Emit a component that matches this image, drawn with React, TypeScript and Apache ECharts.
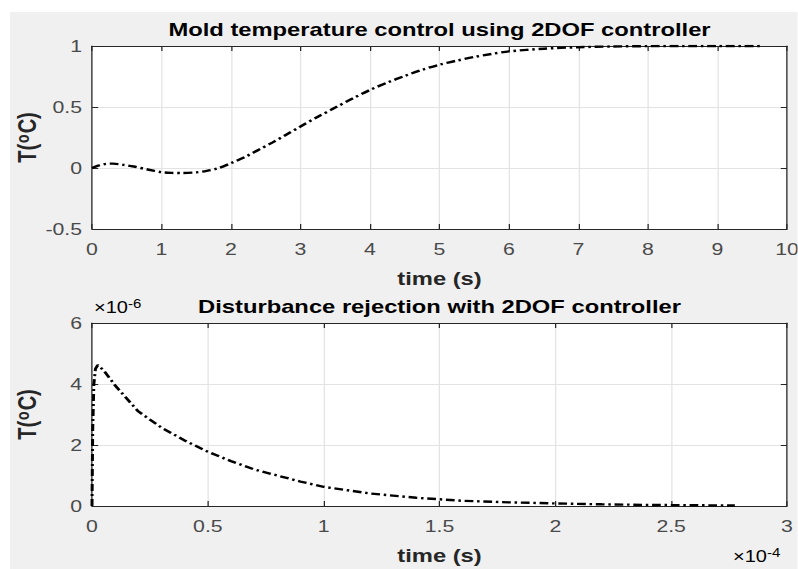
import React, { useEffect, useRef } from "react";
import * as echarts from "echarts";

// Top subplot: step response (time in s, temperature in °C)
const topTime = [0, 0.1, 0.2, 0.3, 0.45, 0.6, 0.8, 1.0, 1.15, 1.3, 1.5, 1.65, 1.8, 2.0, 2.2, 2.4, 2.6, 2.8, 3.0, 3.25, 3.5, 3.75, 4.0, 4.25, 4.5, 4.75, 5.0, 5.25, 5.5, 5.75, 6.0, 6.5, 7.0, 7.5, 8.0, 8.5, 9.0, 9.64];
const topTemp = [0, 0.022, 0.034, 0.036, 0.026, 0.012, -0.012, -0.034, -0.04, -0.041, -0.036, -0.024, -0.005, 0.04, 0.09, 0.15, 0.21, 0.275, 0.34, 0.42, 0.495, 0.57, 0.64, 0.7, 0.755, 0.805, 0.847, 0.88, 0.91, 0.935, 0.956, 0.978, 0.99, 0.996, 0.999, 1.0, 1.0, 1.0];

// Bottom subplot: disturbance rejection (time ×1e-4 s, temperature ×1e-6 °C)
const botTime = [0, 0.003, 0.008, 0.015, 0.025, 0.05, 0.1, 0.2, 0.3, 0.4, 0.5, 0.6, 0.7, 0.8, 0.9, 1.0, 1.2, 1.4, 1.6, 1.8, 2.0, 2.2, 2.4, 2.6, 2.775];
const botTemp = [0, 2.5, 4.0, 4.5, 4.62, 4.45, 3.95, 3.1, 2.57, 2.15, 1.78, 1.47, 1.2, 1.0, 0.8, 0.63, 0.41, 0.27, 0.17, 0.12, 0.085, 0.055, 0.036, 0.024, 0.017];

const topTitle = "Mold temperature control using 2DOF controller";
const botTitle = "Disturbance rejection with 2DOF controller";
const xName = "time (s)";

const SX = 1.25; // horizontal stretch of the reference image
const W = 798 / SX;
const H = 569;
const FONT = "Liberation Sans, Arial, Helvetica, sans-serif";
const AXIS_COLOR = "#262626";
const GRID_COLOR = "#e3e3e3";
const TICK_COLOR = "#4a4a4a";

const gLeft = 92 / SX;
const gWidth = 695 / SX;
const gCenter = gLeft + gWidth / 2;

const yNameRich = {
  n: { fontSize: 20, fontWeight: "bold", fontFamily: FONT, color: AXIS_COLOR },
  s: { fontSize: 14, fontWeight: "bold", fontFamily: FONT, color: AXIS_COLOR, verticalAlign: "top", padding: [0, 1, 7, 1] },
};

function mainX(gridIndex: number, min: number, max: number, interval: number, withName: boolean) {
  return {
    type: "value",
    gridIndex,
    min,
    max,
    interval,
    position: "bottom",
    name: withName ? xName : "",
    nameLocation: "middle",
    nameGap: 40,
    nameMoveOverlap: false,
    nameTextStyle: { fontSize: 19, fontWeight: "bold", fontFamily: FONT, color: AXIS_COLOR },
    axisLine: { show: true, onZero: false, lineStyle: { color: AXIS_COLOR, width: 1 } },
    axisTick: { show: true, inside: true, length: 5, lineStyle: { color: AXIS_COLOR } },
    axisLabel: { show: true, margin: 12, fontSize: 17, fontFamily: FONT, color: TICK_COLOR },
    splitLine: { show: true, lineStyle: { color: GRID_COLOR, width: 1 } },
  };
}
function topX(gridIndex: number, min: number, max: number, interval: number) {
  return {
    type: "value",
    gridIndex,
    min,
    max,
    interval,
    position: "top",
    axisLine: { show: true, onZero: false, lineStyle: { color: AXIS_COLOR, width: 1 } },
    axisTick: { show: true, inside: true, length: 5, lineStyle: { color: AXIS_COLOR } },
    axisLabel: { show: false },
    splitLine: { show: false },
  };
}
function mainY(gridIndex: number, min: number, max: number, interval: number) {
  return {
    type: "value",
    gridIndex,
    min,
    max,
    interval,
    position: "left",
    name: "{n|T(}{s|o}{n|C)}",
    nameLocation: "middle",
    nameRotate: 90,
    nameGap: 41,
    nameMoveOverlap: false,
    nameTextStyle: { rich: yNameRich },
    axisLine: { show: true, onZero: false, lineStyle: { color: AXIS_COLOR, width: 1 } },
    axisTick: { show: true, inside: true, length: 5, lineStyle: { color: AXIS_COLOR } },
    axisLabel: { show: true, margin: 8, fontSize: 17, fontFamily: FONT, color: TICK_COLOR },
    splitLine: { show: true, lineStyle: { color: GRID_COLOR, width: 1 } },
  };
}
function rightY(gridIndex: number, min: number, max: number, interval: number) {
  return {
    type: "value",
    gridIndex,
    min,
    max,
    interval,
    position: "right",
    axisLine: { show: true, onZero: false, lineStyle: { color: AXIS_COLOR, width: 1 } },
    axisTick: { show: true, inside: true, length: 5, lineStyle: { color: AXIS_COLOR } },
    axisLabel: { show: false },
    splitLine: { show: false },
  };
}

const expRich = {
  n: { fontSize: 16, fontFamily: FONT, color: TICK_COLOR },
  s: { fontSize: 12, fontFamily: FONT, color: TICK_COLOR, verticalAlign: "top", padding: [0, 0, 7, 0] },
};

export default function App() {
  const ref = useRef<HTMLDivElement>(null);
  useEffect(() => {
    if (!ref.current) return;
    const chart = echarts.init(ref.current, undefined, { renderer: "svg" });
    const lineStyle = { color: "#000", width: 2.4, type: [7, 3, 2, 3] as any };
    chart.setOption({
      animation: false,
      backgroundColor: "transparent",
      grid: [
        { left: gLeft, top: 46, width: gWidth, height: 183, show: true, backgroundColor: "#ffffff", borderWidth: 0, containLabel: false, outerBoundsMode: "none" },
        { left: gLeft, top: 323, width: gWidth, height: 183, show: true, backgroundColor: "#ffffff", borderWidth: 0, containLabel: false, outerBoundsMode: "none" },
      ],
      xAxis: [mainX(0, 0, 10, 1, true), topX(0, 0, 10, 1), mainX(1, 0, 3, 0.5, true), topX(1, 0, 3, 0.5)],
      yAxis: [mainY(0, -0.5, 1, 0.5), rightY(0, -0.5, 1, 0.5), mainY(1, 0, 6, 2), rightY(1, 0, 6, 2)],
      series: [
        {
          type: "line",
          xAxisIndex: 0,
          yAxisIndex: 0,
          data: topTime.map((t, i) => [t, topTemp[i]]),
          showSymbol: false,
          smooth: 0.3,
          lineStyle,
        },
        {
          type: "line",
          xAxisIndex: 2,
          yAxisIndex: 2,
          data: botTime.map((t, i) => [t, botTemp[i]]),
          showSymbol: false,
          smooth: false,
          lineStyle,
        },
      ],
      graphic: [
        {
          type: "rect",
          silent: true,
          z: -10,
          shape: { x: 10 / SX, y: 12, width: W - 10 / SX, height: H - 12 },
          style: { fill: "#f0f0f0" },
        },
        {
          type: "text",
          x: gCenter,
          y: 30,
          style: { text: topTitle, fill: "#000", font: `bold 19px ${FONT}`, align: "center", verticalAlign: "middle", textAlign: "center", textVerticalAlign: "middle" },
        },
        {
          type: "text",
          x: gCenter,
          y: 307,
          style: { text: botTitle, fill: "#000", font: `bold 19px ${FONT}`, align: "center", verticalAlign: "middle", textAlign: "center", textVerticalAlign: "middle" },
        },
        {
          type: "text",
          x: 94 / SX,
          y: 308,
          style: { text: "{n|×10}{s|-6}", rich: expRich, align: "left", verticalAlign: "middle", textAlign: "left", textVerticalAlign: "middle" },
        },
        {
          type: "text",
          x: 733 / SX,
          y: 557,
          style: { text: "{n|×10}{s|-4}", rich: expRich, align: "left", verticalAlign: "middle", textAlign: "left", textVerticalAlign: "middle" },
        },
      ],
    });
    return () => chart.dispose();
  }, []);
  return (
    <div
      ref={ref}
      style={{
        position: "absolute",
        left: 0,
        top: 0,
        width: `${W}px`,
        height: `${H}px`,
        background: "#ffffff",
        transform: `scaleX(${SX})`,
        transformOrigin: "0 0",
      }}
    />
  );
}
